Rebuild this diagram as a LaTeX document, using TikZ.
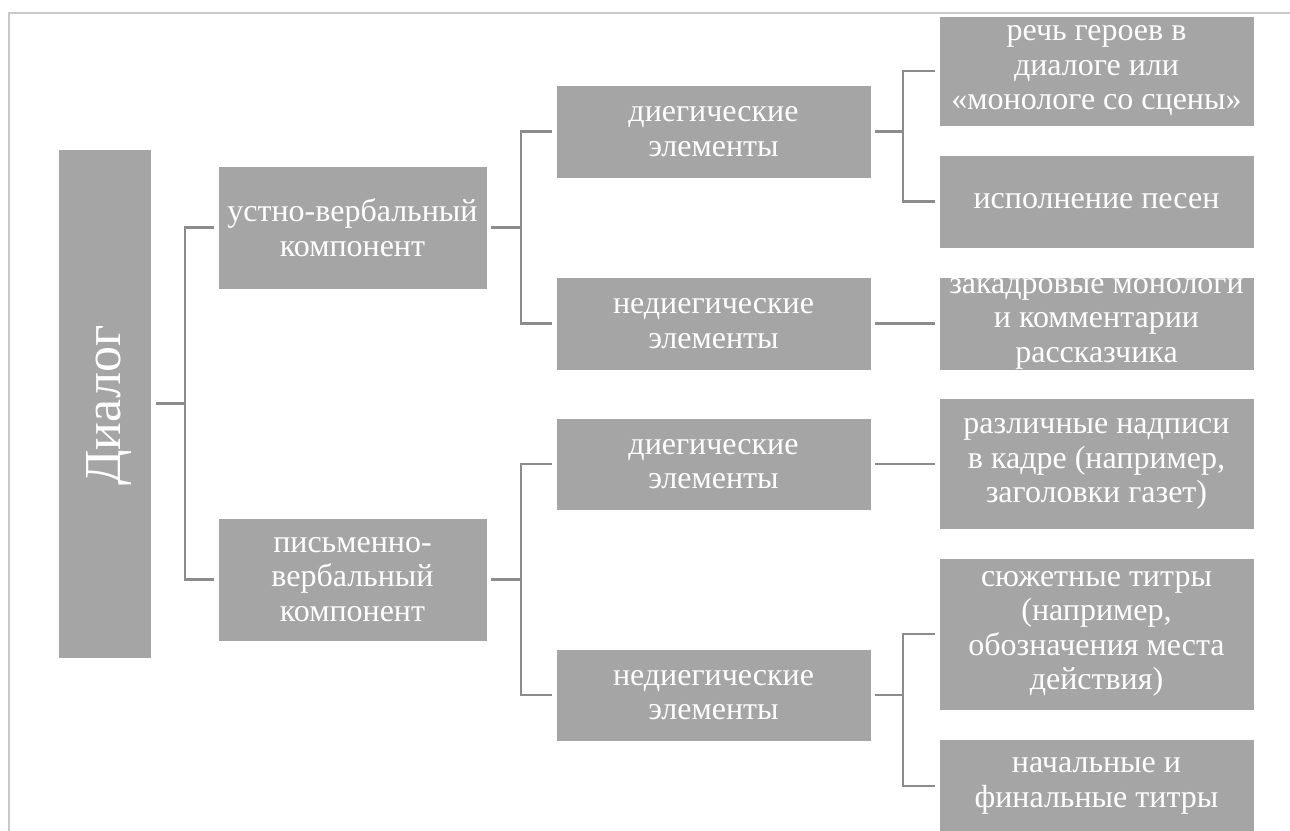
\documentclass[tikz,border=0pt]{standalone}
\usepackage{fontspec}
\setmainfont{Liberation Serif}
\definecolor{boxgray}{HTML}{A5A5A5}
\definecolor{linegray}{HTML}{8C8C8C}
\definecolor{framegray}{HTML}{C8C8C8}
\tikzset{
  box/.style={fill=boxgray, draw=white, line width=0.8pt, inner sep=0pt, align=center,
    text=white, font=\fontsize{32}{34.5}\selectfont},
  conn/.style={draw=linegray, line width=2.6pt},
  framec/.style={draw=framegray, line width=2pt}
}
\begin{document}
\begin{tikzpicture}[x=1pt,y=-1pt]
\useasboundingbox (0,0) rectangle (1290,830);
\fill[white] (0,0) rectangle (1290,830);
\draw[framec] (9,832) -- (9,13) -- (1292,13);

% level 0
\node[box, minimum width=93pt, minimum height=509pt] (dlg) at (105.3,403.5) {};
\node[text=white, rotate=90, inner sep=0pt, font=\fontsize{52}{52}\selectfont] (dlgtxt) at ([xshift=4pt,yshift=-2pt]dlg.center) {Диалог};

% level 1
\node[box, minimum width=269pt, minimum height=123pt] (uv) at (352.5,227.5) {устно-вербальный\\компонент};
\node[box, minimum width=269pt, minimum height=123pt] (pv) at (352.5,579.5) {письменно-\\вербальный\\компонент};

% level 2
\node[box, minimum width=315pt, minimum height=93pt] (d1) at (713.5,131.5) {диегические\\элементы};
\node[box, minimum width=315pt, minimum height=93pt] (n1) at (713.5,323.5) {недиегические\\элементы};
\node[box, minimum width=315pt, minimum height=92pt] (d2) at (713.5,464) {диегические\\элементы};
\node[box, minimum width=315pt, minimum height=92pt] (n2) at (713.5,695) {недиегические\\элементы};

% level 3
\node[box, minimum width=315pt, minimum height=110pt] (r1) at (1096.5,71) {речь героев в\\диалоге или\\«монологе со сцены»};
\node[box, minimum width=315pt, minimum height=93pt] (r2) at (1096.5,201.5) {исполнение песен};
\node[box, minimum width=315pt, minimum height=93pt] (r3) at (1096.5,323.5) {закадровые монологи\\и комментарии\\рассказчика};
\node[box, minimum width=315pt, minimum height=131pt] (r4) at (1096.5,464) {различные надписи\\в кадре (например,\\заголовки газет)};
\node[box, minimum width=315pt, minimum height=152pt] (r5) at (1096.5,634) {сюжетные титры\\(например,\\обозначения места\\действия)};
\node[box, minimum width=315pt, minimum height=94pt] (r6) at (1096.5,786) {начальные и\\финальные титры};

% junctions
\coordinate (j1) at (185,403.5);
\coordinate (j2) at (521,227.5);
\coordinate (j3) at (903,131.5);
\coordinate (j4) at (521,579.5);
\coordinate (j5) at (903,695);

% connectors
\draw[conn] ([xshift=4pt]dlg.east) -- (j1);
\draw[conn] (j1) |- ([xshift=-4pt]uv.west);
\draw[conn] (j1) |- ([xshift=-4pt]pv.west);

\draw[conn] ([xshift=4pt]uv.east) -- (j2);
\draw[conn] (j2) |- ([xshift=-4pt]d1.west);
\draw[conn] (j2) |- ([xshift=-4pt]n1.west);

\draw[conn] ([xshift=4pt]pv.east) -- (j4);
\draw[conn] (j4) |- ([xshift=-4pt]d2.west);
\draw[conn] (j4) |- ([xshift=-4pt]n2.west);

\draw[conn] ([xshift=4pt]d1.east) -- (j3);
\draw[conn] (j3) |- ([xshift=-4pt]r1.west);
\draw[conn] (j3) |- ([xshift=-4pt]r2.west);

\draw[conn] ([xshift=4pt]n1.east) -- ([xshift=-4pt]r3.west);
\draw[conn] ([xshift=4pt]d2.east) -- ([xshift=-4pt]r4.west);

\draw[conn] ([xshift=4pt]n2.east) -- (j5);
\draw[conn] (j5) |- ([xshift=-4pt]r5.west);
\draw[conn] (j5) |- ([xshift=-4pt]r6.west);
\end{tikzpicture}
\end{document}
